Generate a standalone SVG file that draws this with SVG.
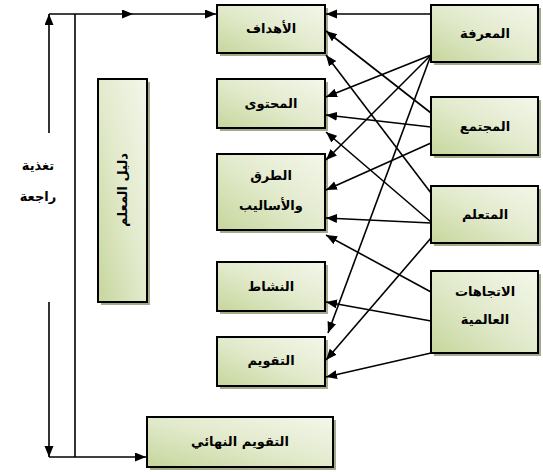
<svg xmlns="http://www.w3.org/2000/svg" width="543" height="472" viewBox="0 0 543 472">
<defs>
<linearGradient id="g" x1="1" y1="0" x2="0" y2="1">
<stop offset="0" stop-color="#f3f7ea"/>
<stop offset="0.5" stop-color="#e2eacc"/>
<stop offset="1" stop-color="#c6d69c"/>
</linearGradient>
<marker id="a" markerUnits="userSpaceOnUse" markerWidth="12" markerHeight="10" refX="11" refY="4.5" orient="auto">
<path d="M0,0 L11,4.5 L0,9 z" fill="#000"/>
</marker>
</defs>
<style>
.sh{fill:#a3ab8a}
.bx{fill:url(#g);stroke:#000;stroke-width:2}
.t{font-family:"DejaVu Sans",sans-serif;font-size:13px;font-weight:bold;text-anchor:middle;fill:#000}
.c{fill:none;stroke:#000;stroke-width:1.6;marker-end:url(#a)}
.l{fill:none;stroke:#000;stroke-width:1.6}
</style>
<rect width="543" height="472" fill="#fff"/>

<g id="goals"><rect class="sh" x="220" y="8" width="108" height="48"/><rect class="bx" x="217" y="5" width="108" height="48"/><text class="t" x="271" y="33">الأهداف</text></g>
<g id="content"><rect class="sh" x="220" y="82" width="108" height="49"/><rect class="bx" x="217" y="79" width="108" height="49"/><text class="t" x="271" y="108">المحتوى</text></g>
<g id="methods"><rect class="sh" x="220" y="157" width="108" height="76"/><rect class="bx" x="217" y="154" width="108" height="76"/><text class="t" x="271" y="180">الطرق</text><text class="t" x="271" y="210">والأساليب</text></g>
<g id="activity"><rect class="sh" x="220" y="265" width="108" height="49"/><rect class="bx" x="217" y="262" width="108" height="49"/><text class="t" x="271" y="291">النشاط</text></g>
<g id="evaluation"><rect class="sh" x="220" y="340" width="108" height="49"/><rect class="bx" x="217" y="337" width="108" height="49"/><text class="t" x="271" y="365">التقويم</text></g>
<g id="final"><rect class="sh" x="150" y="420" width="186" height="50"/><rect class="bx" x="147" y="417" width="186" height="50"/><text class="t" x="240" y="446">التقويم النهائي</text></g>
<g id="guide"><rect class="sh" x="101" y="82" width="49" height="223"/><rect class="bx" x="98" y="79" width="49" height="223"/><text class="t" transform="translate(127,190) rotate(-90)" x="0" y="0">دليل المعلم</text></g>
<g id="knowledge"><rect class="sh" x="434" y="8" width="107" height="57"/><rect class="bx" x="431" y="5" width="107" height="57"/><text class="t" x="485" y="38">المعرفة</text></g>
<g id="society"><rect class="sh" x="434" y="100" width="107" height="58"/><rect class="bx" x="431" y="97" width="107" height="58"/><text class="t" x="485" y="131">المجتمع</text></g>
<g id="learner"><rect class="sh" x="434" y="189" width="107" height="57"/><rect class="bx" x="431" y="186" width="107" height="57"/><text class="t" x="485" y="219">المتعلم</text></g>
<g id="trends"><rect class="sh" x="434" y="274" width="107" height="82"/><rect class="bx" x="431" y="271" width="107" height="82"/><text class="t" x="485" y="296">الاتجاهات</text><text class="t" x="485" y="324">العالمية</text></g>
<g id="feedback"><text class="t" x="38" y="170">تغذية</text><text class="t" x="38" y="201">راجعة</text></g>

<g id="connectors">
<path class="c" d="M431,14 L326,14"/>
<path class="c" d="M431,55 L326,97"/>
<path class="c" d="M431,55 L326,160"/>
<path class="c" d="M431,55 L328,333"/>
<path class="c" d="M431,113 L326,31"/>
<path class="c" d="M431,127 L326,115"/>
<path class="c" d="M431,143 L326,190"/>
<path class="c" d="M431,193 L326,55"/>
<path class="c" d="M431,222 L326,132"/>
<path class="c" d="M431,223 L326,218"/>
<path class="c" d="M431,238 L326,360"/>
<path class="c" d="M431,292 L326,235"/>
<path class="c" d="M431,321 L326,302"/>
<path class="c" d="M431,353 L326,377"/>
<path class="c" d="M49,14 L133,14"/>
<path class="c" d="M133,14 L216,14"/>
<path class="l" d="M75,14 L75,457"/>
<path class="c" d="M49,133 L49,14"/>
<path class="c" d="M49,302 L49,457"/>
<path class="c" d="M49,457 L146,457"/>
</g>
</svg>
